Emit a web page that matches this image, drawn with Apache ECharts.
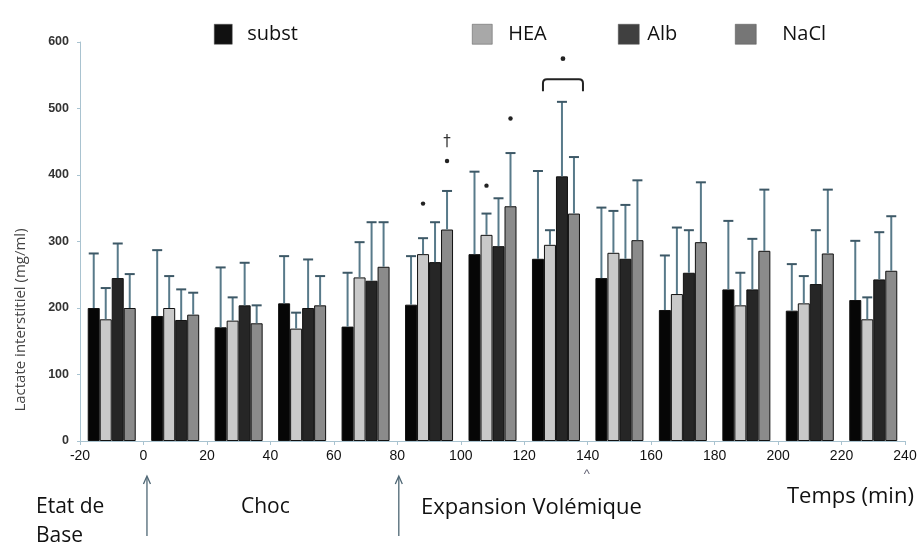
<!DOCTYPE html>
<html>
<head>
<meta charset="utf-8">
<script src="https://cdn.jsdelivr.net/npm/echarts@6/dist/echarts.min.js"></script>
<style>html,body{margin:0;padding:0;background:#fff}#c{width:922px;height:546px}</style>
</head>
<body>
<div id="c"></div>
<script>
// ---- data ----
const categories = ['-10','10','30','50','70','90','110','130','150','170','190','210','230'];
const xTickMin = -20, xTickMax = 240, xTickStep = 20;
const yTickMin = 0, yTickMax = 600, yTickStep = 100;
const seriesNames = ['subst','HEA','Alb','NaCl'];
const subst    = [200,188,171,207,172,205,281,274,245,197,228,196,212];
const substErr = [282,287,261,278,253,278,405,406,351,279,331,266,301];
const hea      = [183,200,181,169,246,281,310,295,283,221,204,207,183];
const heaErr   = [230,248,216,193,299,305,342,317,346,321,253,248,216];
const alb      = [245,182,204,200,241,269,293,398,274,253,228,236,243];
const albErr   = [297,228,268,273,329,329,365,510,355,317,304,317,314];
const nacl     = [200,190,177,204,262,318,353,342,302,299,286,282,256];
const naclErr  = [251,223,204,248,329,376,433,427,392,389,378,378,338];
// significance marks: [category index, bar index, value, symbol]
const sigMarks = [[5,1,357,'•'],[5,3,421,'•'],[5,3,450,'†'],[6,1,384,'•'],[6,3,485,'•']];
// bracket: [category index, from bar, to bar, low value, high value, dot value]
const brackets = [[7,1,3,526,544,575]];
const yAxisTitle = 'Lactate interstitiel (mg/ml)';
const phaseLabels = ['Etat de', 'Base', 'Choc', 'Expansion Volémique', 'Temps (min)'];
const arrowTimes = [0, 80];
const caretTime = 140;

// ---- styles ----
const barColors = ['#060606','#c9c9c9','#262626','#8b8b8b'];
const legendColors = ['#111111','#a8a8a8','#404040','#767676'];
const BW = 12;
const errColor = '#587a8a';

const chart = echarts.init(document.getElementById('c'));
const valuesArr = [subst, hea, alb, nacl];
const errArr = [substErr, heaErr, albErr, naclErr];

function offsetOf(k){ return (k - 1.5) * BW; }

const series = [];
valuesArr.forEach((vals, k) => {
  series.push({
    name: seriesNames[k], type: 'bar', xAxisIndex: 0, yAxisIndex: 0,
    data: vals, barWidth: BW, barGap: '0%',
    itemStyle: { color: barColors[k], borderColor: '#111', borderWidth: 1 },
    z: 2
  });
});
valuesArr.forEach((vals, k) => {
  series.push({
    type: 'custom', xAxisIndex: 0, yAxisIndex: 0, z: 3, silent: true,
    data: vals.map((v, i) => [i, v, errArr[k][i]]),
    encode: { x: 0, y: [1, 2] },
    renderItem: function (params, api) {
      const i = api.value(0);
      const p0 = api.coord([i, api.value(1)]);
      const p1 = api.coord([i, api.value(2)]);
      const x = p0[0] + offsetOf(k);
      return { type: 'group', children: [
        { type: 'line', shape: { x1: x, y1: p0[1], x2: x, y2: p1[1] }, style: { stroke: errColor, lineWidth: 2 } },
        { type: 'line', shape: { x1: x - 5, y1: p1[1], x2: x + 5, y2: p1[1] }, style: { stroke: '#3d5866', lineWidth: 2 } }
      ]};
    }
  });
});
series.push({
  type: 'custom', xAxisIndex: 0, yAxisIndex: 0, z: 4, silent: true,
  data: sigMarks,
  encode: { x: 0, y: 2 },
  renderItem: function (params, api) {
    const d = sigMarks[params.dataIndex];
    const p = api.coord([d[0], d[2]]);
    const x = p[0] + offsetOf(d[1]);
    if (d[3] === '•') {
      return { type: 'circle', shape: { cx: x, cy: p[1], r: 2.2 }, style: { fill: '#222' } };
    }
    return { type: 'text', x: x, y: p[1], style: { text: d[3], fontSize: 15, fill: '#333', align: 'center', verticalAlign: 'middle', fontFamily: 'DejaVu Sans' } };
  }
});
series.push({
  type: 'custom', xAxisIndex: 0, yAxisIndex: 0, z: 4, silent: true,
  data: brackets,
  encode: { x: 0, y: 4 },
  renderItem: function (params, api) {
    const d = brackets[params.dataIndex];
    const lo = api.coord([d[0], d[3]]);
    const hi = api.coord([d[0], d[4]]);
    const dt = api.coord([d[0], d[5]]);
    const xa = lo[0] + offsetOf(d[1]) - BW / 2 - 1;
    const xb = lo[0] + offsetOf(d[2]) + BW / 2 + 3;
    const r = 4;
    return { type: 'group', children: [
      { type: 'path', shape: { pathData:
        'M' + xa + ' ' + lo[1] + ' L' + xa + ' ' + (hi[1] + r) + ' Q' + xa + ' ' + hi[1] + ' ' + (xa + r) + ' ' + hi[1] +
        ' L' + (xb - r) + ' ' + hi[1] + ' Q' + xb + ' ' + hi[1] + ' ' + xb + ' ' + (hi[1] + r) + ' L' + xb + ' ' + lo[1] },
        style: { stroke: '#222', lineWidth: 2, fill: null } },
      { type: 'circle', shape: { cx: (xa + xb) / 2, cy: dt[1], r: 2.4 }, style: { fill: '#222' } }
    ]};
  }
});

function legendItem(k, left, pad, w) {
  return {
    left: left, top: 19, itemWidth: w, itemHeight: 20, icon: 'rect',
    data: [{ name: seriesNames[k], itemStyle: { color: legendColors[k], borderColor: '#555', borderWidth: 0.5 } }],
    textStyle: { fontSize: 20, color: '#111', fontFamily: 'Open Sans', padding: [0, 0, 0, pad] },
    selectedMode: false
  };
}

chart.setOption({
  animation: false,
  backgroundColor: '#fff',
  grid: { left: 80, right: 17, top: 42, bottom: 105 },
  legend: [legendItem(0, 209, 10, 18), legendItem(1, 467, 11, 20), legendItem(2, 613, 3, 21), legendItem(3, 730, 21, 21)],
  xAxis: [
    { type: 'category', data: categories, show: false, boundaryGap: true },
    { type: 'value', min: xTickMin, max: xTickMax, interval: xTickStep, position: 'bottom',
      axisLine: { show: true, onZero: false, lineStyle: { color: '#a9c3d0', width: 1 } },
      axisTick: { show: true, length: 4, lineStyle: { color: '#a9c3d0' } },
      splitLine: { show: false },
      axisLabel: { fontSize: 14, color: '#111', margin: 8, fontFamily: 'Liberation Sans', showMinLabel: true, showMaxLabel: true } }
  ],
  yAxis: [{ type: 'value', min: yTickMin, max: yTickMax, interval: yTickStep,
    axisLine: { show: true, onZero: false, lineStyle: { color: '#a9c3d0', width: 1 } },
    axisTick: { show: true, length: 3, lineStyle: { color: '#a9c3d0' } },
    splitLine: { show: false },
    axisLabel: { fontSize: 12.5, color: '#333', fontWeight: 'bold', margin: 11, fontFamily: 'Liberation Sans' } }],
  series: series
});

function px(t) { return chart.convertToPixel({ xAxisIndex: 1 }, t); }
const baseY = chart.convertToPixel({ yAxisIndex: 0 }, 0);
const txt = { fill: '#111', verticalAlign: 'middle', fontFamily: 'Open Sans', fontSize: 22 };
const graphics = [
  { type: 'text', x: 21, y: 320, rotation: Math.PI / 2, style: { text: yAxisTitle, fontSize: 15, fill: '#444', align: 'center', verticalAlign: 'middle', fontFamily: 'Open Sans' } },
  { type: 'text', x: 36, y: 507, style: Object.assign({ text: phaseLabels[0] }, txt, { fontSize: 21 }) },
  { type: 'text', x: 36, y: 536, style: Object.assign({ text: phaseLabels[1] }, txt, { fontSize: 21 }) },
  { type: 'text', x: 241, y: 507, style: Object.assign({ text: phaseLabels[2] }, txt, { fontSize: 21 }) },
  { type: 'text', x: 421, y: 508, style: Object.assign({ text: phaseLabels[3] }, txt) },
  { type: 'text', x: 787, y: 497, style: Object.assign({ text: phaseLabels[4] }, txt) },
  { type: 'text', x: px(caretTime) - 1, y: baseY + 33, style: { text: '^', fontSize: 13, fill: '#667', align: 'center', verticalAlign: 'middle', fontFamily: 'Liberation Sans' } }
];
arrowTimes.forEach((t, j) => {
  const x = px(t) + (j === 0 ? 3.5 : 1.5);
  graphics.push({ type: 'line', shape: { x1: x, y1: 536, x2: x, y2: baseY + 36 }, style: { stroke: '#4e6674', lineWidth: 1.3 } });
  graphics.push({ type: 'polyline', shape: { points: [[x - 3.5, baseY + 43], [x, baseY + 35], [x + 3.5, baseY + 43]] }, style: { stroke: '#4e6674', lineWidth: 1.3, fill: null } });
});
chart.setOption({ graphic: graphics });
</script>
</body>
</html>
